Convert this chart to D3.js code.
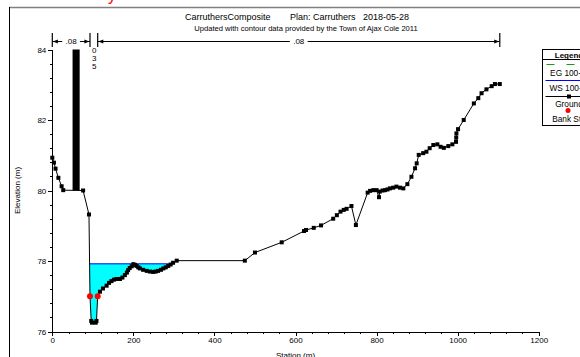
<!DOCTYPE html>
<html>
<head>
<meta charset="utf-8">
<script src="https://cdn.jsdelivr.net/npm/d3@7"></script>
<style>
  body { margin: 0; background: #fff; }
  svg { display: block; font-family: "Liberation Sans", Arial, sans-serif; }
  .axis path, .axis line { stroke: #000; shape-rendering: crispEdges; }
  .axis text { font-size: 8px; fill: #000; }
</style>
</head>
<body>
<div id="chart"></div>
<script>
// ground profile (station m, elevation m)
const groundStation = [0, 4, 8, 15, 23, 27, 76, 90.5, 93, 96, 98, 107, 109, 112,
  117.6, 125, 134, 140, 146, 152, 158, 167, 173, 179, 184, 187, 191, 196, 200, 204, 208, 212, 216, 224, 233, 241, 249, 255, 261, 268, 274, 280, 286, 292, 298, 307,
  475, 500, 566, 621, 626, 645, 663, 693, 702, 711, 719, 726, 738, 749, 778, 784, 792, 800, 806, 808,
  815, 821, 827, 833, 841, 849, 858, 866, 876, 886, 895, 899, 904, 915, 923, 931, 940, 950, 958, 966,
  977, 987, 996, 996.5, 997, 1001, 1015, 1040, 1051, 1059, 1071, 1084, 1092, 1104];
const groundElev = [80.93, 80.79, 80.62, 80.36, 80.12, 80.01, 80.0, 79.32, 77.0, 76.3, 76.25, 76.25, 76.3, 77.0,
  77.13, 77.22, 77.30, 77.38, 77.43, 77.47, 77.49, 77.49, 77.53, 77.60, 77.67, 77.74, 77.80, 77.85, 77.91, 77.89, 77.86, 77.82, 77.79, 77.75, 77.72, 77.70, 77.69, 77.70, 77.72, 77.75, 77.79, 77.82, 77.86, 77.90, 77.95, 78.01,
  78.01, 78.24, 78.53, 78.85, 78.88, 78.94, 79.01, 79.20, 79.30, 79.40, 79.45, 79.48, 79.56, 79.02, 79.94, 79.99, 80.01, 80.01, 79.81, 79.97,
  80.0, 80.01, 80.03, 80.06, 80.08, 80.11, 80.08, 80.06, 80.18, 80.39, 80.63, 80.77, 81.01, 81.06, 81.10, 81.20, 81.29, 81.31, 81.24, 81.21,
  81.26, 81.31, 81.38, 81.5, 81.62, 81.74, 82.00, 82.47, 82.62, 82.76, 82.87, 82.96, 83.02, 83.02];

const bankStations = [93, 112];
const wsElev = 77.92;   // WS 100-yr
const egElev = 77.95;   // EG 100-yr

// manning's n breaks along the top
const nBreaks = [0, 93, 112, 1104];
const nValues = ['.08', '.035', '.08'];

// blocked obstruction
const blockStation = [50, 67.5];
const blockElev = [80, 84];

const xTicks = [0, 200, 400, 600, 800, 1000, 1200];
const yTicks = [76, 78, 80, 82, 84];

const titleParts = ['CarruthersComposite', 'Plan: Carruthers', '2018-05-28'];
const subtitle = 'Updated with contour data provided by the Town of Ajax Cole 2011';
const legendItems = ['EG 100-yr', 'WS 100-yr', 'Ground', 'Bank Sta'];

const W = 580, H = 357;
const plot = {left: 52.3, right: 538.7, top: 49.5, bottom: 331.5};

const svg = d3.select('#chart').append('svg')
  .attr('width', W)
  .attr('height', H);

const x = d3.scaleLinear().domain([0, 1200]).range([plot.left, plot.right]);
const y = d3.scaleLinear().domain([76, 84]).range([plot.bottom, plot.top]);

const ground = groundStation.map((s, i) => ({s: s, e: groundElev[i]}));
const groundAt = (s) => {
  for (let i = 1; i < ground.length; i++) {
    if (s <= ground[i].s) {
      const a = ground[i - 1], b = ground[i];
      const t = (s - a.s) / (b.s - a.s || 1);
      return a.e + t * (b.e - a.e);
    }
  }
  return ground[ground.length - 1].e;
};

// frame
svg.append('line').attr('x1', 9).attr('x2', W).attr('y1', 7.5).attr('y2', 7.5)
  .attr('stroke', '#808080').attr('stroke-width', 1.5);
svg.append('line').attr('x1', 9.5).attr('x2', 9.5).attr('y1', 7).attr('y2', H)
  .attr('stroke', '#000').attr('stroke-width', 1);
svg.append('text').attr('x', 108).attr('y', 0.5).attr('fill', '#f00')
  .style('font-size', '16px').text('y');

// titles
const titleX = [185, 290, 363];
titleParts.forEach((t, i) => {
  svg.append('text').attr('x', titleX[i]).attr('y', 19.5)
    .style('font-size', '9px').text(t);
});
svg.append('text').attr('x', 306).attr('y', 31).attr('text-anchor', 'middle')
  .style('font-size', '7.6px').text(subtitle);

// water below WS, clipped to the ground
function crossings(level) {
  const pts = [];
  for (let i = 1; i < ground.length; i++) {
    const a = ground[i - 1], b = ground[i];
    if ((a.e - level) * (b.e - level) < 0) {
      pts.push(a.s + (level - a.e) / (b.e - a.e) * (b.s - a.s));
    }
  }
  return pts;
}
const wsX = crossings(wsElev);
const egX = crossings(egElev);

const wet = [];
wet.push({s: wsX[0], e: wsElev});
ground.forEach((g) => { if (g.s > wsX[0] && g.s < wsX[wsX.length - 1] && g.e <= wsElev) wet.push(g); });
wet.push({s: wsX[wsX.length - 1], e: wsElev});

svg.append('path')
  .datum(wet)
  .attr('fill', '#00ffff')
  .attr('d', d3.area().x((d) => x(d.s)).y0((d) => y(d.e)).y1(y(wsElev)));

// axes
svg.append('g').attr('class', 'axis')
  .attr('transform', `translate(0,${plot.bottom})`)
  .call(d3.axisBottom(x).tickValues(xTicks).tickSize(4).tickSizeOuter(0).tickPadding(2).tickFormat(d3.format('d')));
svg.append('g').attr('class', 'axis')
  .attr('transform', `translate(0,${plot.bottom})`)
  .call(d3.axisBottom(x).tickValues(d3.range(0, 1201, 40)).tickSize(2).tickFormat(''))
  .select('.domain').remove();

svg.append('g').attr('class', 'axis')
  .attr('transform', `translate(${plot.left},0)`)
  .call(d3.axisLeft(y).tickValues(yTicks).tickSize(4).tickSizeOuter(0).tickPadding(2));
svg.append('g').attr('class', 'axis')
  .attr('transform', `translate(${plot.left},0)`)
  .call(d3.axisLeft(y).tickValues(d3.range(76, 84.01, 0.4)).tickSize(2).tickFormat(''))
  .select('.domain').remove();

svg.append('text').attr('x', (plot.left + plot.right) / 2).attr('y', 358)
  .attr('text-anchor', 'middle').style('font-size', '8px').text('Station (m)');
svg.append('text')
  .attr('transform', `translate(20,${(plot.top + plot.bottom) / 2}) rotate(-90)`)
  .attr('text-anchor', 'middle').style('font-size', '8px').text('Elevation (m)');

// blocked obstruction
svg.append('rect')
  .attr('x', x(blockStation[0]))
  .attr('width', x(blockStation[1]) - x(blockStation[0]))
  .attr('y', y(blockElev[1]))
  .attr('height', y(blockElev[0]) - y(blockElev[1]))
  .attr('fill', '#000');

// EG and WS lines
svg.append('line')
  .attr('x1', x(egX[0])).attr('x2', x(egX[egX.length - 1]))
  .attr('y1', y(egElev)).attr('y2', y(egElev))
  .attr('stroke', '#1a9a1a').attr('stroke-width', 1);
svg.append('line')
  .attr('x1', x(wsX[0])).attr('x2', x(wsX[wsX.length - 1]))
  .attr('y1', y(wsElev)).attr('y2', y(wsElev))
  .attr('stroke', '#0000ff').attr('stroke-width', 1);

// ground
svg.append('path')
  .datum(ground)
  .attr('fill', 'none')
  .attr('stroke', '#000')
  .attr('stroke-width', 1)
  .attr('d', d3.line().x((d) => x(d.s)).y((d) => y(d.e)));

svg.selectAll('.gpt')
  .data(ground)
  .enter().append('rect')
  .attr('class', 'gpt')
  .attr('x', (d) => x(d.s) - 2)
  .attr('y', (d) => y(d.e) - 2)
  .attr('width', 4)
  .attr('height', 4)
  .attr('fill', '#000');

// bank stations
svg.selectAll('.bank')
  .data(bankStations)
  .enter().append('circle')
  .attr('class', 'bank')
  .attr('cx', (d) => x(d))
  .attr('cy', (d) => y(groundAt(d)))
  .attr('r', 3)
  .attr('fill', '#ff0000');

// manning's n dimension lines
const nTop = 33, nBot = 47, nY = 41.5;
const dim = svg.append('g').attr('stroke', '#000').attr('fill', '#000');
nBreaks.forEach((s) => {
  dim.append('line').attr('x1', x(s)).attr('x2', x(s)).attr('y1', nTop).attr('y2', nBot)
    .attr('stroke-width', 1.2);
});
const arrow = (px, dir) => {
  dim.append('path')
    .attr('d', `M${px},${nY}L${px + dir * 5},${nY - 2}L${px + dir * 5},${nY + 2}Z`)
    .attr('stroke', 'none');
};
nValues.forEach((v, i) => {
  const a = x(nBreaks[i]), b = x(nBreaks[i + 1]);
  const mid = (a + b) / 2;
  if (b - a > 25) {
    const half = v.length * 2.3 + 2;
    dim.append('line').attr('x1', a).attr('x2', mid - half).attr('y1', nY).attr('y2', nY).attr('stroke-width', 1);
    dim.append('line').attr('x1', mid + half).attr('x2', b).attr('y1', nY).attr('y2', nY).attr('stroke-width', 1);
    arrow(a + 0.6, 1);
    arrow(b - 0.6, -1);
    svg.append('text').attr('x', mid).attr('y', nY + 2.5).attr('text-anchor', 'middle')
      .style('font-size', '8px').text(v);
  } else {
    v.replace('.', '').split('').forEach((c, j) => {
      svg.append('text').attr('x', mid + 0.5).attr('y', 53 + j * 8).attr('text-anchor', 'middle')
        .style('font-size', '8px').text(c);
    });
  }
});

// legend
const lg = svg.append('g');
const lx = 542.5, lw = 58, lc = 569;
lg.append('rect').attr('x', lx).attr('y', 49.5).attr('width', lw).attr('height', 76)
  .attr('fill', '#fff').attr('stroke', '#000').attr('stroke-width', 1);
lg.append('text').attr('x', lc).attr('y', 57.5).attr('text-anchor', 'middle')
  .style('font-size', '8px').style('font-weight', 'bold').text('Legend');
lg.append('line').attr('x1', lx).attr('x2', lx + lw).attr('y1', 59.5).attr('y2', 59.5).attr('stroke', '#000');
lg.append('line').attr('x1', lx + 4).attr('x2', lx + lw).attr('y1', 64.5).attr('y2', 64.5)
  .attr('stroke', '#1a9a1a').attr('stroke-dasharray', '8,12');
lg.append('line').attr('x1', lx + 3).attr('x2', lx + lw).attr('y1', 80.5).attr('y2', 80.5)
  .attr('stroke', '#0000ff');
lg.append('line').attr('x1', lx + 3).attr('x2', lx + lw).attr('y1', 96.5).attr('y2', 96.5)
  .attr('stroke', '#000');
lg.append('rect').attr('x', lc - 2).attr('y', 94.5).attr('width', 4).attr('height', 4).attr('fill', '#000');
lg.append('circle').attr('cx', lc - 1).attr('cy', 110.5).attr('r', 2.5).attr('fill', '#ff0000');
const legendY = [76, 90.5, 107, 122];
legendItems.forEach((t, i) => {
  lg.append('text').attr('x', lc).attr('y', legendY[i]).attr('text-anchor', 'middle')
    .style('font-size', '8.3px').text(t);
});
</script>
</body>
</html>
